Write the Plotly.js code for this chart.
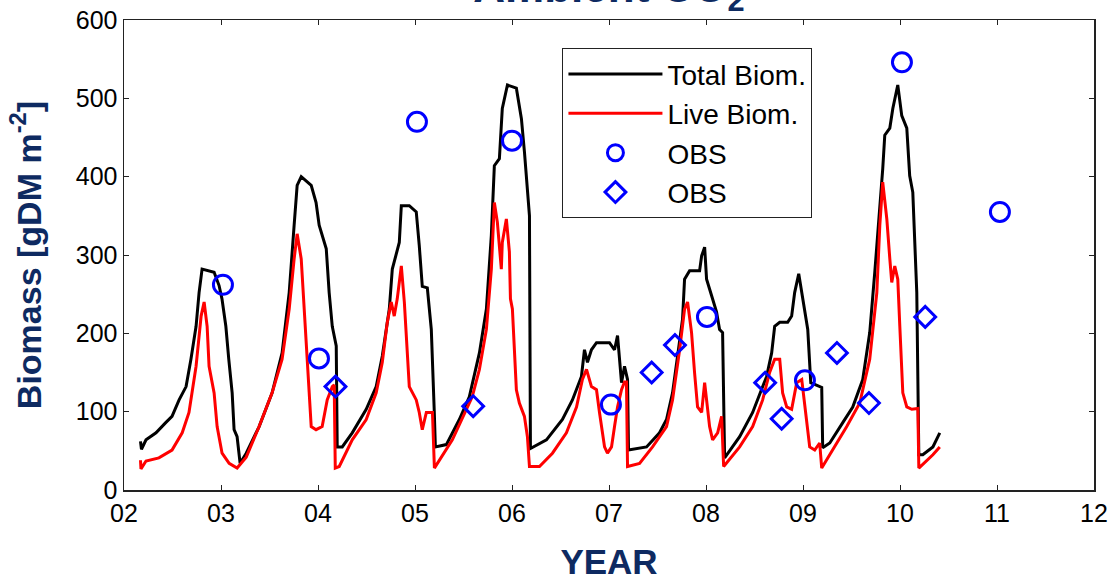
<!DOCTYPE html>
<html>
<head>
<meta charset="utf-8">
<script src="https://cdn.plot.ly/plotly-3.0.1.min.js"></script>
<style>
  html, body { margin: 0; padding: 0; background: #ffffff; }
  #chart { width: 1111px; height: 581px; }
</style>
</head>
<body>
<div id="chart"></div>
<script>
// Simulated total above-ground biomass (gDM m-2), by fractional year
const yearTotal = [
  2.17, 2.18, 2.227, 2.33, 2.43, 2.495, 2.568, 2.64, 2.69, 2.743, 2.774, 2.805, 2.929, 2.98, 3.01,
  3.05, 3.08, 3.115, 3.135, 3.166, 3.197, 3.26, 3.393, 3.527, 3.63, 3.703, 3.754, 3.785, 3.827, 3.93,
  3.98, 4.012, 4.085, 4.115, 4.147, 4.188, 4.198, 4.25, 4.353, 4.497, 4.6, 4.663, 4.735, 4.766, 4.838,
  4.859, 4.941, 5.013, 5.044, 5.075, 5.127, 5.168, 5.199, 5.21, 5.323, 5.457, 5.56, 5.664, 5.736, 5.787,
  5.818, 5.87, 5.9, 5.953, 6.045, 6.097, 6.128, 6.159, 6.18, 6.19, 6.355, 6.52, 6.623, 6.716, 6.747,
  6.778, 6.819, 6.871, 7.005, 7.057, 7.088, 7.129, 7.16, 7.191, 7.201, 7.387, 7.521, 7.593, 7.655, 7.707,
  7.758, 7.779, 7.831, 7.934, 7.955, 7.986, 8.006, 8.058, 8.109, 8.14, 8.171, 8.192, 8.347, 8.481, 8.625,
  8.677, 8.708, 8.76, 8.842, 8.883, 8.914, 8.956, 8.997, 9.049, 9.08, 9.193, 9.203, 9.276, 9.41, 9.513,
  9.616, 9.688, 9.74, 9.792, 9.822, 9.843, 9.895, 9.926, 9.977, 10.018, 10.07, 10.1, 10.132, 10.173, 10.184,
  10.194, 10.235, 10.339, 10.41
];
const totalBiomass = [
  62, 52, 64, 73, 86, 94, 115, 132, 167, 209, 252, 282, 278, 261, 244,
  209, 167, 124, 77, 68, 34, 47, 81, 124, 175, 252, 338, 389, 400, 389,
  367, 338, 308, 252, 209, 184, 55, 55, 73, 103, 132, 171, 231, 282, 316,
  363, 363, 355, 312, 260, 258, 205, 99, 55, 58, 90, 119, 175, 231, 325,
  414, 423, 487, 517, 513, 474, 432, 376, 350, 53, 64, 90, 115, 145, 179,
  163, 179, 188, 188, 179, 197, 137, 158, 141, 51, 55, 73, 90, 124, 171,
  218, 269, 280, 280, 299, 310, 269, 248, 227, 205, 201, 41, 68, 99, 145,
  175, 209, 214, 214, 222, 252, 276, 244, 205, 137, 131, 54, 60, 86, 106,
  141, 201, 278, 359, 410, 453, 462, 487, 517, 478, 462, 401, 380, 252, 103,
  45, 45, 55, 73
];

// Simulated live biomass (gDM m-2)
const yearLive = [
  2.17, 2.175, 2.227, 2.36, 2.495, 2.6, 2.67, 2.743, 2.795, 2.826, 2.857, 2.877, 2.929, 2.96, 3.011,
  3.084, 3.166, 3.26, 3.393, 3.527, 3.63, 3.703, 3.754, 3.785, 3.827, 3.858, 3.889, 3.93, 3.98, 4.043,
  4.095, 4.147, 4.167, 4.178, 4.219, 4.353, 4.497, 4.6, 4.663, 4.714, 4.755, 4.786, 4.817, 4.859, 4.89,
  4.92, 4.941, 5.013, 5.044, 5.075, 5.117, 5.18, 5.2, 5.385, 5.53, 5.59, 5.664, 5.736, 5.787, 5.818,
  5.849, 5.89, 5.9, 5.942, 5.973, 5.984, 6.004, 6.045, 6.076, 6.128, 6.159, 6.18, 6.283, 6.417, 6.561,
  6.665, 6.726, 6.768, 6.819, 6.871, 6.902, 6.954, 6.984, 7.026, 7.057, 7.088, 7.129, 7.16, 7.18, 7.191,
  7.315, 7.449, 7.593, 7.655, 7.728, 7.779, 7.81, 7.851, 7.882, 7.913, 7.955, 7.986, 8.006, 8.037, 8.068,
  8.12, 8.161, 8.182, 8.347, 8.481, 8.584, 8.656, 8.708, 8.76, 8.79, 8.832, 8.883, 8.935, 8.987, 9.018,
  9.069, 9.121, 9.172, 9.193, 9.307, 9.451, 9.585, 9.688, 9.761, 9.792, 9.822, 9.864, 9.895, 9.915, 9.946,
  9.977, 9.998, 10.029, 10.07, 10.122, 10.184, 10.194, 10.339, 10.41
];
const liveBiomass = [
  38, 27, 37, 41, 51, 73, 99, 158, 222, 240, 209, 158, 124, 81, 47,
  34, 28, 42, 81, 124, 167, 231, 295, 327, 295, 231, 167, 81, 77, 81,
  115, 132, 134, 28, 30, 64, 90, 124, 163, 214, 240, 222, 244, 286, 240,
  175, 132, 115, 99, 77, 99, 99, 28, 64, 103, 119, 154, 205, 282, 367,
  342, 282, 316, 346, 304, 244, 231, 128, 111, 94, 68, 30, 30, 47, 73,
  106, 141, 154, 132, 128, 99, 55, 47, 55, 81, 106, 128, 138, 138, 30,
  34, 55, 81, 115, 179, 231, 240, 201, 150, 106, 99, 137, 115, 81, 64,
  73, 94, 30, 55, 81, 115, 150, 167, 167, 124, 106, 103, 137, 141, 111,
  55, 51, 60, 28, 51, 81, 111, 167, 252, 338, 393, 346, 295, 265, 286,
  269, 209, 124, 106, 103, 104, 28, 45, 55
];

// Field observations
const obsCircleYear = [3.02, 4.01, 5.02, 6.0, 7.02, 8.01, 9.02, 10.02, 11.03];
const obsCircle = [262, 168, 470, 446, 109, 221, 140, 546, 355];
const obsDiamondYear = [4.18, 5.6, 7.44, 7.68, 8.61, 8.78, 9.35, 9.68, 10.26];
const obsDiamond = [132, 107, 150, 185, 137, 91, 175, 111, 221];

// Axis ticks
const yearTicks = [2, 3, 4, 5, 6, 7, 8, 9, 10, 11, 12];
const yearTickText = ['02', '03', '04', '05', '06', '07', '08', '09', '10', '11', '12'];

const FONT = 'Liberation Sans, Arial, Helvetica, sans-serif';
const NAVY = '#0e2a61';

const traces = [
  {
    x: yearTotal, y: totalBiomass, name: 'Total Biom.', type: 'scatter', mode: 'lines',
    line: { color: '#000000', width: 3 }
  },
  {
    x: yearLive, y: liveBiomass, name: 'Live Biom.', type: 'scatter', mode: 'lines',
    line: { color: '#ff0000', width: 3 }
  },
  {
    x: obsCircleYear, y: obsCircle, name: 'OBS', type: 'scatter', mode: 'markers',
    marker: { symbol: 'circle-open', size: 19, color: '#0000ff', line: { width: 3, color: '#0000ff' } }
  },
  {
    x: obsDiamondYear, y: obsDiamond, name: 'OBS', type: 'scatter', mode: 'markers',
    marker: { symbol: 'diamond-open', size: 16, color: '#0000ff', line: { width: 3, color: '#0000ff' } }
  }
];

const axisCommon = {
  showline: true, linecolor: '#222222', linewidth: 1.5, mirror: 'ticks',
  ticks: 'inside', ticklen: 5, tickwidth: 1, tickcolor: '#222222',
  showgrid: false, zeroline: false,
  tickfont: { family: FONT, size: 25, color: '#000000' }
};

const layout = {
  width: 1111, height: 581,
  margin: { l: 124, r: 17, t: 20, b: 91 },
  paper_bgcolor: '#ffffff', plot_bgcolor: '#ffffff',
  font: { family: FONT, color: '#000000' },
  title: {
    text: '<b>Ambient CO<sub>2</sub></b>',
    font: { family: FONT, size: 44, color: NAVY },
    xref: 'paper', x: 0.5, xanchor: 'center',
    yref: 'container', y: 0.997, yanchor: 'bottom'
  },
  xaxis: Object.assign({}, axisCommon, {
    range: [2, 12], tickmode: 'array', tickvals: yearTicks, ticktext: yearTickText,
    title: { text: '<b>YEAR</b>', font: { family: FONT, size: 35, color: NAVY }, standoff: 30 }
  }),
  yaxis: Object.assign({}, axisCommon, {
    range: [0, 600], tickmode: 'linear', tick0: 0, dtick: 100,
    title: { text: '<b>Biomass [gDM m<sup>-2</sup>]</b>', font: { family: FONT, size: 34, color: NAVY }, standoff: 24 }
  }),
  showlegend: true,
  legend: {
    x: 0.452, y: 0.94, xanchor: 'left', yanchor: 'top',
    bgcolor: '#ffffff', bordercolor: '#222222', borderwidth: 1,
    font: { family: FONT, size: 28, color: '#000000' },
    itemwidth: 94, tracegroupgap: 0
  }
};

Plotly.newPlot('chart', traces, layout, { displayModeBar: false, staticPlot: true });
</script>
</body>
</html>
